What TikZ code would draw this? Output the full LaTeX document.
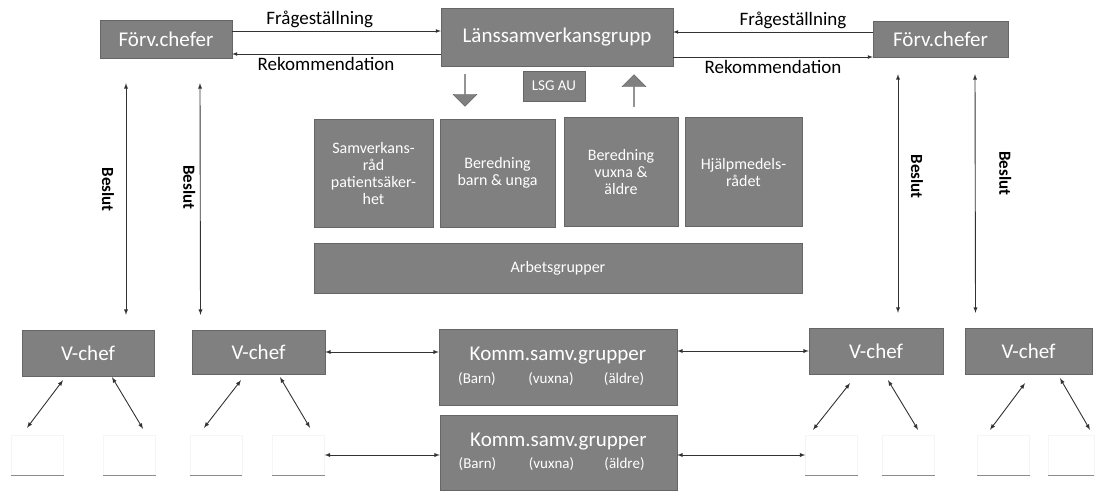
\documentclass[tikz,border=0pt]{standalone}
\usepackage{fontspec}
\setmainfont{Carlito}
\usepackage{xcolor}
\usepackage{tikz}
\usetikzlibrary{calc,shapes.arrows}

\definecolor{boxgray}{RGB}{128,128,128}
\definecolor{linegray}{RGB}{50,50,50}
\tikzset{
  box/.style={rectangle, fill=boxgray, draw=boxgray!80!black, text=white, inner sep=0pt, align=center},
  bigbox/.style={box, font=\fontsize{21}{24}\selectfont},
  midbox/.style={box, font=\fontsize{16}{17}\selectfont},
  blank/.style={rectangle, draw=black!4, minimum width=52pt, minimum height=40pt, inner sep=0pt},
  blockarrow/.style={single arrow, fill=boxgray, draw=boxgray!80!black, minimum height=32pt, minimum width=24pt, single arrow head extend=4.5pt, inner sep=0pt},
  conn/.style={<->, >=latex, draw=linegray, line width=0.9pt},
  lbl/.style={font=\fontsize{19}{22}\selectfont, text=black},
  beslut/.style={font=\fontsize{17}{20}\selectfont\bfseries, rotate=-90},
}

\begin{document}
\begin{tikzpicture}[x=1pt, y=-1pt]
  \useasboundingbox (0,0) rectangle (1095,493);
  % top row
  \node[bigbox, minimum width=132pt, minimum height=38pt] (forvA) at (166,39) {Förv.chefer};
  \node[bigbox, minimum width=232pt, minimum height=58pt] (lsg) at (557,37) {Länssamverkansgrupp};
  \node[bigbox, minimum width=135pt, minimum height=36pt] (forvB) at (940.5,39) {Förv.chefer};
  \node[box, minimum width=62pt, minimum height=30pt, font=\fontsize{15}{17}\selectfont] (lsgau) at (554,86) {LSG AU};
  \node[blockarrow, shape border rotate=270] (down) at (465,90) {};
  \node[blockarrow, shape border rotate=90] (up) at (634,91) {};

  \draw[->, >=latex, draw=linegray, line width=0.7pt] ([yshift=8pt]forvA.east) -- ([yshift=6pt]lsg.west) node[lbl, pos=.42, above] {Frågeställning};
  \draw[->, >=latex, draw=linegray, line width=0.7pt] ([yshift=-17pt]lsg.west) -- ([yshift=-15pt]forvA.east) node[lbl, pos=.55, below] {Rekommendation};
  \draw[->, >=latex, draw=linegray, line width=0.7pt] ([yshift=7pt]forvB.west) -- ([yshift=5pt]lsg.east) node[lbl, pos=.4, above] {Frågeställning};
  \draw[->, >=latex, draw=linegray, line width=0.7pt] ([yshift=-20pt]lsg.east) -- ([yshift=-18pt]forvB.west) node[lbl, pos=.5, below] {Rekommendation};

  % beredningar
  \node[midbox, minimum width=119pt, minimum height=108pt] (samv) at (373.5,173) {Samverkans-\\råd\\patientsäker-\\het};
  \node[midbox, minimum width=115pt, minimum height=108pt] (barn) at (497.5,173) {Beredning\\barn \& unga};
  \node[midbox, minimum width=114pt, minimum height=109pt] (vuxna) at (621,172) {Beredning\\vuxna \&\\äldre};
  \node[midbox, minimum width=117pt, minimum height=109pt] (hjalp) at (743.5,172) {Hjälpmedels-\\rådet};
  \node[midbox, minimum width=488pt, minimum height=50pt] (arb) at (558,268) {Arbetsgrupper};

  % V-chefer och kommunala grupper
  \node[bigbox, minimum width=132pt, minimum height=46pt] (vA) at (88,353) {V-chef};
  \node[bigbox, minimum width=133pt, minimum height=44pt] (vB) at (258.5,352) {V-chef};
  \node[bigbox, minimum width=134pt, minimum height=46pt] (vC) at (876,351) {V-chef};
  \node[bigbox, minimum width=127pt, minimum height=46pt] (vD) at (1028.5,351) {V-chef};
  \node[bigbox, minimum width=238pt, minimum height=76pt, text depth=26pt] (kommA) at (558,367) {Komm.samv.grupper};
  \node[bigbox, minimum width=237pt, minimum height=75pt, text depth=26pt] (kommB) at (558.5,452.5) {Komm.samv.grupper};
  \foreach \k in {kommA, kommB} {
    \node[text=white, font=\fontsize{15}{17}\selectfont] at ($(\k.center)+(-81,12)$) {(Barn)};
    \node[text=white, font=\fontsize{15}{17}\selectfont] at ($(\k.center)+(-7,12)$) {(vuxna)};
    \node[text=white, font=\fontsize{15}{17}\selectfont] at ($(\k.center)+(66,12)$) {(äldre)};
  }

  % tomma rutor
  \node[blank] (bxA) at (37.5,455) {};
  \node[blank] (bxB) at (129.5,455) {};
  \node[blank] (bxC) at (216,455) {};
  \node[blank] (bxD) at (298.5,455) {};
  \node[blank] (bxE) at (831.5,455) {};
  \node[blank] (bxF) at (908.5,455) {};
  \node[blank] (bxG) at (1003.5,455) {};
  \node[blank, minimum width=46pt] (bxH) at (1071,455) {};
  \foreach \b in {bxA, bxB, bxC, bxD, bxE, bxF, bxG, bxH}
    \draw[black!45, line width=1pt] (\b.south west) -- (\b.south east);

  % beslut
  \draw[conn] ($(forvA.south)+(-40,25)$) -- ($(vA.north)+(38,-15)$) node[pos=.46, xshift=-18pt, beslut] {Beslut};
  \draw[conn] ($(forvA.south)+(34,25)$) -- ($(vB.north)+(-58,-15)$) node[pos=.45, xshift=-11pt, beslut] {Beslut};
  \draw[conn] ($(forvB.south)+(-42.5,17)$) -- ($(vC.north)+(22,-15)$) node[pos=.43, xshift=19pt, beslut] {Beslut};
  \draw[conn] ($(forvB.south)+(34.5,17)$) -- ($(vD.north)+(-53,-15)$) node[pos=.415, xshift=30pt, beslut] {Beslut};

  % horisontella
  \draw[conn] (vB.east) -- (vB.east -| kommA.west);
  \draw[conn] (vC.west -| kommA.east) -- (vC.west);
  \draw[conn] (bxD.east) -- (bxD.east -| kommB.west);
  \draw[conn] (bxE.west -| kommB.east) -- (bxE.west);

  % diagonala
  \draw[conn] ($(vA.south)+(-25,4)$) -- ($(bxA.north)+(-10.5,-7)$);
  \draw[conn] ($(vA.south)+(24,1)$) -- ($(bxB.north)+(13.5,-6)$);
  \draw[conn] ($(vB.south)+(-17.5,6)$) -- ($(bxC.north)+(-12,-7)$);
  \draw[conn] ($(vB.south)+(21.5,3)$) -- ($(bxD.north)+(11.5,-7)$);
  \draw[conn] ($(vC.south)+(-26,9)$) -- ($(bxE.north)+(-18.5,-5)$);
  \draw[conn] ($(vC.south)+(12,6)$) -- ($(bxF.north)+(9.5,-5)$);
  \draw[conn] ($(vD.south)+(-3.5,9)$) -- ($(bxG.north)+(-13.5,-5)$);
  \draw[conn] ($(vD.south)+(31.5,4)$) -- ($(bxH.north)+(19,-5)$);
\end{tikzpicture}
\end{document}
